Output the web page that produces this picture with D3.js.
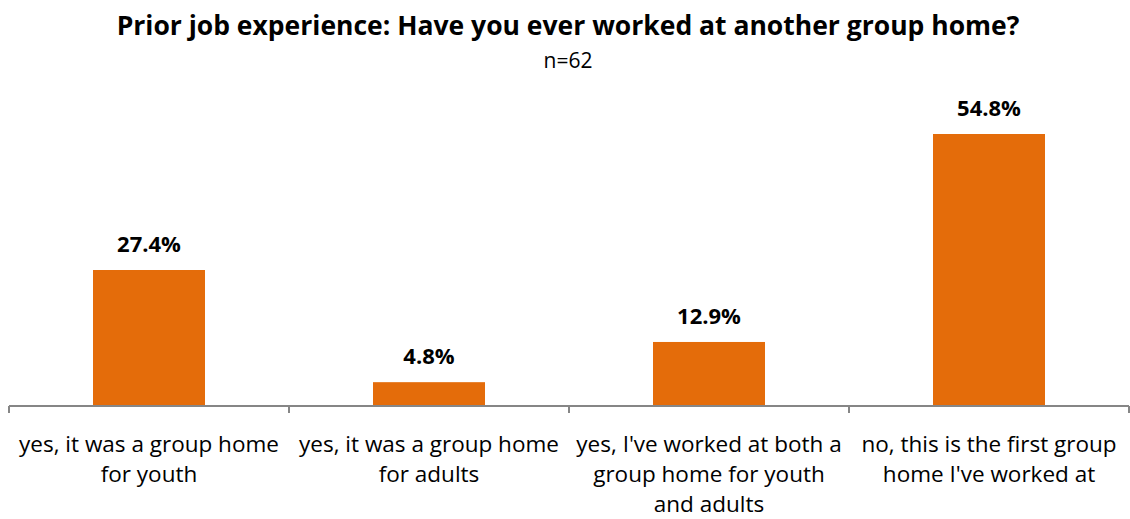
<!DOCTYPE html>
<html>
<head>
<meta charset="utf-8">
<script src="https://cdn.jsdelivr.net/npm/d3@7"></script>
<style>
  body { margin: 0; background: #fff; }
  text { font-family: "Open Sans", sans-serif; fill: #000; }
</style>
</head>
<body>
<script>
const categories = [
  ['yes, it was a group home', 'for youth'],
  ['yes, it was a group home', 'for adults'],
  ["yes, I've worked at both a", 'group home for youth', 'and adults'],
  ['no, this is the first group', "home I've worked at"],
];
const values = [27.4, 4.8, 12.9, 54.8];
const title = 'Prior job experience: Have you ever worked at another group home?';
const subtitle = 'n=62';

const width = 1130;
const height = 519;
const baseY = 406;

const svg = d3.select('body')
  .append('svg')
  .attr('width', width)
  .attr('height', height);

const x = d3.scaleBand()
  .domain(d3.range(values.length))
  .range([9, 1129])
  .paddingInner(0.6)
  .paddingOuter(0.3);

const y = d3.scaleLinear()
  .domain([0, d3.max(values)])
  .range([baseY, 134]);

svg.append('text')
  .attr('x', 568)
  .attr('y', 35)
  .attr('text-anchor', 'middle')
  .style('font-size', '26.5px')
  .style('font-weight', 'bold')
  .text(title);

svg.append('text')
  .attr('x', 568)
  .attr('y', 68)
  .attr('text-anchor', 'middle')
  .style('font-size', '21px')
  .text(subtitle);

svg.selectAll('rect.bar')
  .data(values)
  .enter()
  .append('rect')
  .attr('class', 'bar')
  .attr('x', (d, i) => x(i))
  .attr('y', d => y(d))
  .attr('width', x.bandwidth())
  .attr('height', d => baseY - y(d))
  .attr('fill', '#E46C0A');

svg.selectAll('text.val')
  .data(values)
  .enter()
  .append('text')
  .attr('class', 'val')
  .attr('x', (d, i) => x(i) + x.bandwidth() / 2)
  .attr('y', d => y(d) - 18)
  .attr('text-anchor', 'middle')
  .style('font-size', '22px')
  .style('font-weight', 'bold')
  .text(d => d.toFixed(1) + '%');

// category axis: baseline plus ticks at band edges
const step = x.step();
const axis = svg.append('g').attr('stroke', '#868686').attr('stroke-width', 2);
axis.append('line')
  .attr('x1', 9).attr('x2', 1129)
  .attr('y1', baseY).attr('y2', baseY);
axis.selectAll('line.tick')
  .data(d3.range(values.length + 1))
  .enter()
  .append('line')
  .attr('class', 'tick')
  .attr('x1', i => 9 + i * step)
  .attr('x2', i => 9 + i * step)
  .attr('y1', baseY)
  .attr('y2', baseY + 7);

const labels = svg.selectAll('text.cat')
  .data(categories)
  .enter()
  .append('text')
  .attr('class', 'cat')
  .attr('text-anchor', 'middle')
  .style('font-size', '22.5px');

labels.selectAll('tspan')
  .data((d, i) => d.map(line => ({ line, i })))
  .enter()
  .append('tspan')
  .attr('x', d => x(d.i) + x.bandwidth() / 2)
  .attr('y', (d, j) => 452 + j * 30)
  .text(d => d.line);
</script>
</body>
</html>
